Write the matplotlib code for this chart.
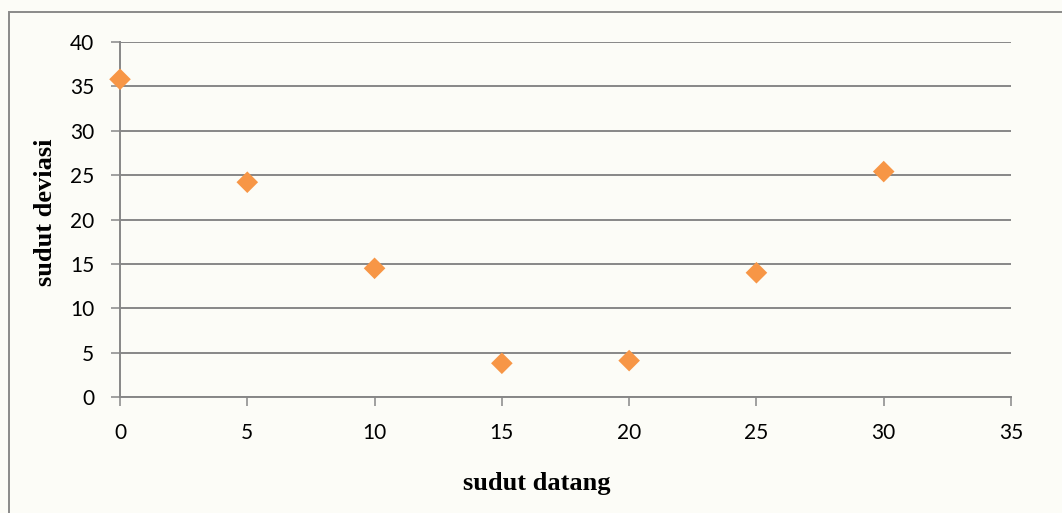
import matplotlib.pyplot as plt
from matplotlib.patches import Rectangle

# Measured angles
sudut_datang = [0, 5, 10, 15, 20, 25, 30]
sudut_deviasi = [35.8, 24.2, 14.5, 3.8, 4.1, 14.0, 25.4]

x_ticks = [0, 5, 10, 15, 20, 25, 30, 35]
y_ticks = [0, 5, 10, 15, 20, 25, 30, 35, 40]

W, H = 1062, 513
bg = '#fcfcf7'
grid_c = '#878787'
orange = '#f79646'

fig = plt.figure(figsize=(W / 100, H / 100), dpi=100, facecolor=bg)
ax = fig.add_axes([120 / W, 116 / H, (1011 - 120) / W, (397 - 42) / H])
ax.set_facecolor(bg)

ax.scatter(sudut_datang, sudut_deviasi, marker='D', s=11 ** 2, color=orange,
           edgecolors='none', zorder=3, clip_on=False)

ax.set_xlim(0, 35)
ax.set_ylim(0, 40)
ax.set_xticks(x_ticks)
ax.set_yticks(y_ticks)
ax.yaxis.grid(True, color=grid_c, linewidth=1.4)
ax.set_axisbelow(True)

for s in ('top', 'right'):
    ax.spines[s].set_visible(False)
for s in ('left', 'bottom'):
    ax.spines[s].set_color(grid_c)
    ax.spines[s].set_linewidth(1.4)

ax.tick_params(axis='both', colors=grid_c, width=1.1, length=6.5,
               labelcolor='black', labelsize=15)
ax.tick_params(axis='y', pad=12)
ax.tick_params(axis='x', pad=12)
for lab in ax.get_xticklabels() + ax.get_yticklabels():
    lab.set_fontfamily('Lato')

label_font = dict(fontfamily='Liberation Serif', fontweight='bold', fontsize=19)
ax.set_xlabel('sudut datang', **label_font)
ax.set_ylabel('sudut deviasi', **label_font)
ax.xaxis.set_label_coords(0.468, -0.212)
ax.yaxis.set_label_coords(-0.071, 0.52)

# Chart frame
fig.patches.append(Rectangle((9 / W, -0.05), 1.2, (H - 12) / H + 0.05,
                             transform=fig.transFigure, fill=False,
                             edgecolor='#8a8a8a', linewidth=1.4))

fig.savefig('out.png', dpi=100, facecolor=bg)
